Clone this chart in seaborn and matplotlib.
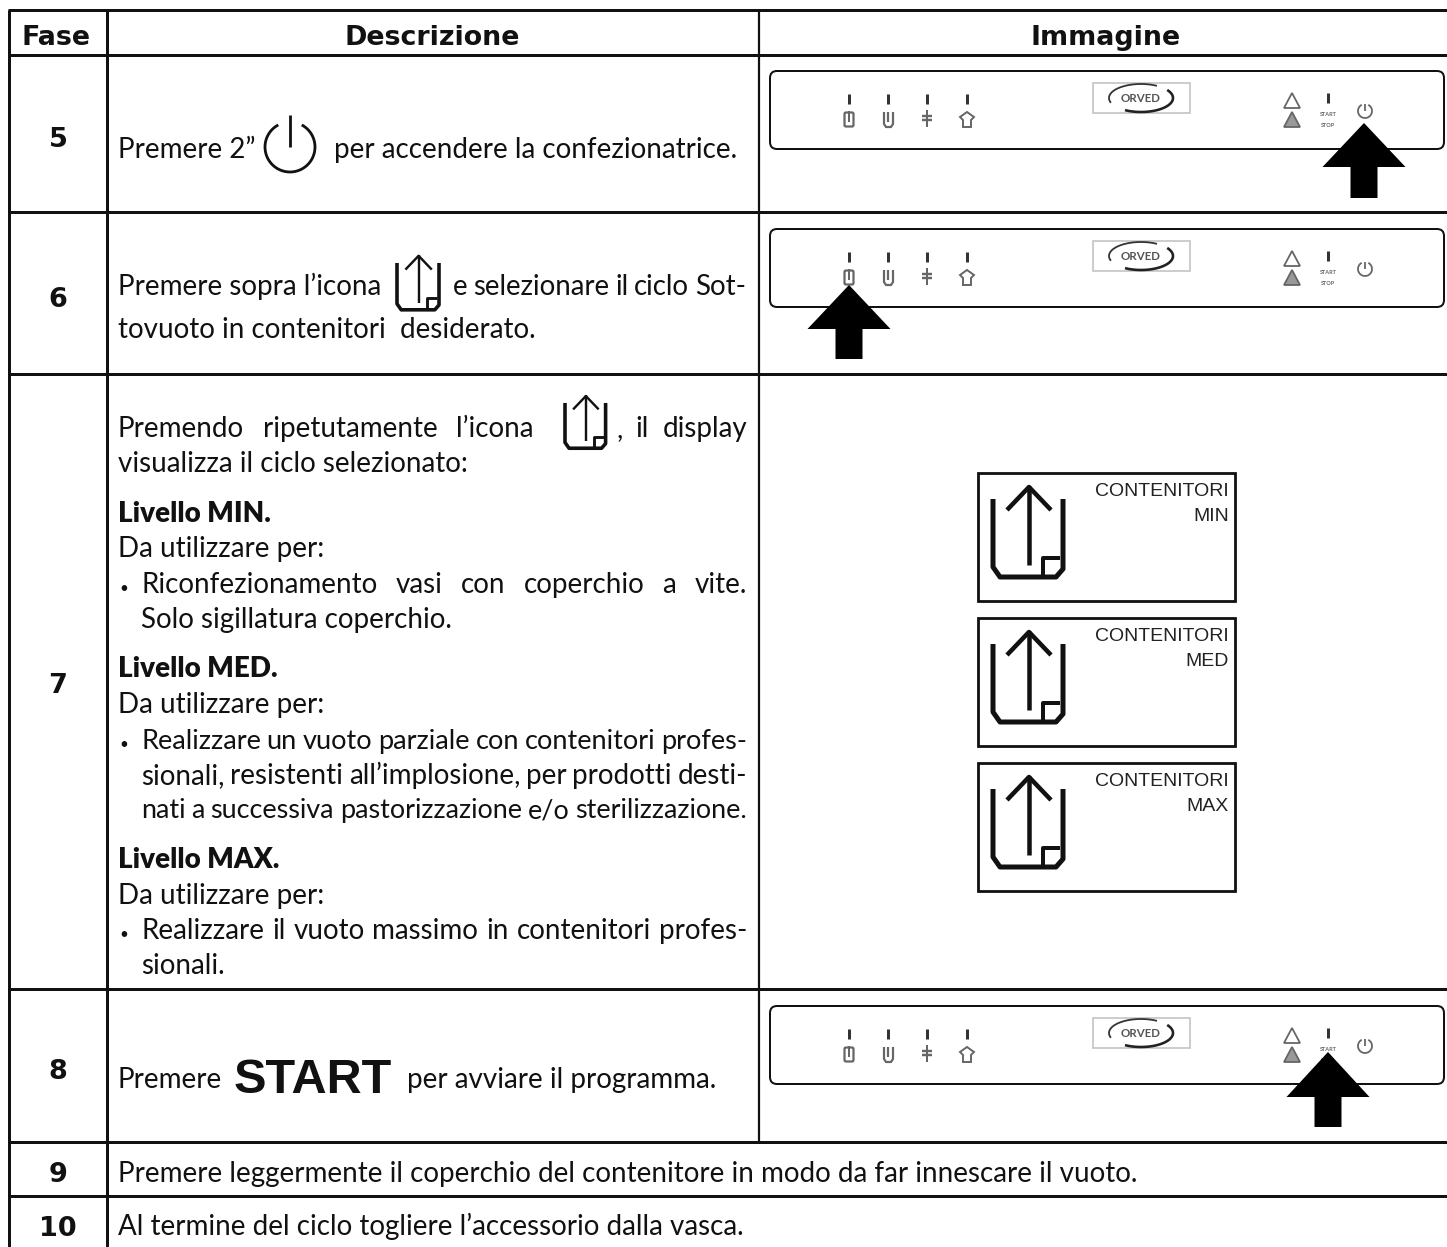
import numpy as np
import seaborn as sns
import matplotlib
matplotlib.use('Agg')
import matplotlib.pyplot as plt
from matplotlib.patches import Rectangle, FancyBboxPatch, Polygon

# Table content
headers = ['Fase', 'Descrizione', 'Immagine']
phases = ['5', '6', '7', '8', '9', '10']
row5_text = ['Premere 2”', 'per accendere la confezionatrice.']
row6_text = ['Premere sopra l’icona', 'e selezionare il ciclo Sot-', 'tovuoto in contenitori  desiderato.']
row7_intro = ['Premendo ripetutamente l’icona', ', il display', 'visualizza il ciclo selezionato:']
levels = ['Livello MIN.', 'Livello MED.', 'Livello MAX.']
level_use = 'Da utilizzare per:'
min_lines = ['Riconfezionamento vasi con coperchio a vite.', 'Solo sigillatura coperchio.']
med_lines = ['Realizzare un vuoto parziale con contenitori profes-',
             'sionali, resistenti all’implosione, per prodotti desti-',
             'nati a successiva pastorizzazione e/o sterilizzazione.']
max_lines = ['Realizzare il vuoto massimo in contenitori profes-', 'sionali.']
row8_text = ['Premere', 'START', 'per avviare il programma.']
row9_text = 'Premere leggermente il coperchio del contenitore in modo da far innescare il vuoto.'
row10_text = 'Al termine del ciclo togliere l’accessorio dalla vasca.'
lcd_title = 'CONTENITORI'
lcd_levels = ['MIN', 'MED', 'MAX']
panel_labels = ['ORVED', 'START', 'STOP']

W, H = 1447, 1247
PX = 0.72
BODY = 20

sns.set_style('white')
plt.rcParams['font.family'] = ['Lato', 'DejaVu Sans']

fig = plt.figure(figsize=(W / 100, H / 100), dpi=100)
ax = fig.add_axes([0, 0, 1, 1])
ax.set_xlim(0, W)
ax.set_ylim(H, 0)
ax.axis('off')
renderer = fig.canvas.get_renderer()


def line(xs, ys, lw=3, color='#111111', **kw):
    ax.plot(xs, ys, color=color, lw=lw * PX, solid_capstyle=kw.pop('cap', 'butt'), **kw)


def put(x, y, s, size=BODY, weight='normal', ha='left', **kw):
    return ax.text(x, y, s, fontsize=size, fontweight=weight, ha=ha, va='baseline', color=kw.pop('color', '#111111'), **kw)


def justified(x0, x1, y, s, min_gap=5.5):
    # spread the words so the line fills the column, shrink a little when the line is too long
    words = s.split(' ')
    items = [put(x0, y, w) for w in words]
    widths = [t.get_window_extent(renderer).width for t in items]
    spaces = max(len(words) - 1, 1)
    if x1 - x0 - sum(widths) < min_gap * spaces:
        size = BODY * (x1 - x0 - min_gap * spaces) / sum(widths)
        for t in items:
            t.set_fontsize(size)
        widths = [t.get_window_extent(renderer).width for t in items]
    gap = (x1 - x0 - sum(widths)) / spaces
    x = x0
    for t, w in zip(items, widths):
        t.set_x(x)
        x += w + gap


def container_icon(x, y, s=1.0, lw=5, shaft=4.5):
    # U shaped tub with the up arrow, x/y = top left of the tub
    color = '#111111'
    line([x, x, x + 7 * s, x + 63 * s, x + 70 * s, x + 70 * s],
         [y, y + 68 * s, y + 78 * s, y + 78 * s, y + 70 * s, y], lw=lw, color=color)
    line([x + 36 * s, x + 36 * s], [y + 66 * s, y - 13 * s], lw=shaft, color=color)
    line([x + 14 * s, x + 36 * s, x + 58 * s], [y + 11 * s, y - 12 * s, y + 11 * s], lw=shaft, color=color)
    line([x + 50 * s, x + 50 * s, x + 67 * s], [y + 78 * s, y + 59 * s, y + 59 * s], lw=lw * 0.8, color=color)


def power_icon(cx, cy, r, lw, tick, color='#111111'):
    t = np.radians(np.linspace(118, 422, 60))
    line(cx + r * np.cos(t), cy - r * np.sin(t), lw=lw, color=color)
    line([cx, cx], [cy - tick, cy], lw=lw, color=color)


def arrow_up(cx, tip, base, bottom):
    ax.add_patch(Polygon([(cx, tip), (cx + 41.5, base), (cx + 13.5, base), (cx + 13.5, bottom),
                          (cx - 13.5, bottom), (cx - 13.5, base), (cx - 41.5, base)],
                         closed=True, fc='black', ec='none', zorder=5))


def panel(top):
    gray = '#666666'
    ax.add_patch(FancyBboxPatch((770 + 7, top + 7), 674 - 14, 78 - 14, boxstyle='round,pad=7',
                                fc='white', ec='#111111', lw=2 * PX))
    for x in [849, 888, 927, 967]:
        line([x, x], [top + 23, top + 33], lw=3, color='#333333')
    # the four cycle icons
    y0 = top + 41
    ax.add_patch(FancyBboxPatch((846, y0 + 2), 6, 11, boxstyle='round,pad=1.5', fc='white', ec=gray, lw=1.6))
    line([849, 849], [y0 - 1, y0 + 10], lw=2, color=gray)
    line([884, 884, 886, 891, 893, 893], [y0, y0 + 12, y0 + 15, y0 + 15, y0 + 12, y0], lw=2.2, color=gray)
    line([888, 888], [y0, y0 + 10], lw=2.2, color=gray)
    line([927, 927], [y0 - 2, y0 + 15], lw=2, color=gray)
    line([922, 932], [y0 + 4, y0 + 4], lw=2.4, color=gray)
    line([922, 932], [y0 + 8, y0 + 8], lw=2.4, color=gray)
    ax.add_patch(Polygon([(967, y0), (974, y0 + 5), (971, y0 + 8), (971, y0 + 15), (963, y0 + 15),
                          (963, y0 + 8), (960, y0 + 5)], closed=True, fc='white', ec=gray, lw=1.4))
    # logo
    ax.add_patch(Rectangle((1093, top + 12), 97, 30, fc='white', ec='#c4c4c4', lw=1.2))
    t = np.radians(np.linspace(60, 200, 40))
    line(1141 + 32 * np.cos(t), top + 27 - 14 * np.sin(t), lw=1.8, color='#333333')
    t = np.radians(np.linspace(-120, 35, 40))
    line(1141 + 32 * np.cos(t), top + 27 - 14 * np.sin(t), lw=2.6, color='#222222')
    put(1141, top + 31, panel_labels[0], size=8.3, weight='bold', ha='center', color='#555555')
    # warning triangles
    for dy, fc in [(22, 'white'), (41, '#999999')]:
        ax.add_patch(Polygon([(1292, top + dy), (1300, top + dy + 15), (1284, top + dy + 15)],
                             closed=True, fc=fc, ec='#666666', lw=1.3))
    line([1328, 1328], [top + 22, top + 32], lw=3, color='#333333')
    put(1328, top + 45, panel_labels[1], size=4, weight='bold', ha='center', color='#666666')
    put(1328, top + 56, panel_labels[2], size=4, weight='bold', ha='center', color='#666666')
    power_icon(1365, top + 40, 7, 1.8, 7, color='#666666')


# grid lines
for y in [10, 55, 212, 374, 989, 1142, 1196]:
    line([8, W], [y, y], lw=3)
line([9, 9], [10, H], lw=3)
line([107, 107], [10, H], lw=3)
line([758.5, 758.5], [10, 1142], lw=2.2)

# headers
for s, x in zip(headers, [56, 432, 1106]):
    ax.text(x, 45, s, fontsize=19.4, family='DejaVu Sans', fontweight='bold', ha='center', va='baseline', color='#111111')

# phase numbers
for s, y in zip(phases, [147, 307, 693, 1079, 1182, 1236]):
    ax.text(58, y, s, fontsize=19.5, family='DejaVu Sans', fontweight='bold', ha='center', va='baseline', color='#111111')

# row 5
put(118, 158, row5_text[0])
power_icon(290, 147, 25, 2.8, 32)
put(334, 158, row5_text[1])

# row 6
put(118, 295, row6_text[0])
container_icon(397, 263, 0.6, 3.6, 2.4)
justified(453, 746, 295, row6_text[1])
put(118, 338, row6_text[2])

# row 7
justified(118, 534, 437, row7_intro[0])
container_icon(565, 403, 0.58, 3.6, 2.4)
justified(616, 747, 437, row7_intro[1])
put(118, 472, row7_intro[2])

put(118, 522, levels[0], weight='heavy')
put(118, 557, level_use)
put(119, 593, '•', size=11)
justified(141, 747, 593, min_lines[0])
put(141, 628, min_lines[1])

put(118, 677, levels[1], weight='heavy')
put(118, 713, level_use)
put(119, 749, '•', size=11)
for s, y in zip(med_lines, [749, 784, 818]):
    justified(141, 747, y, s)

put(118, 868, levels[2], weight='heavy')
put(118, 904, level_use)
put(119, 939, '•', size=11)
justified(141, 747, 939, max_lines[0])
put(141, 974, max_lines[1])

# row 8
put(118, 1088, row8_text[0])
ax.text(234, 1093, row8_text[1], fontsize=35, family='Liberation Sans', fontweight='bold', ha='left', va='baseline', color='#111111')
put(407, 1088, row8_text[2])

# rows 9 and 10
put(118, 1182, row9_text)
put(118, 1235, row10_text)

# machine panels
panel(71)
panel(229)
panel(1006)
arrow_up(1364, 123, 167, 198)
arrow_up(849, 285, 329, 359)
arrow_up(1328, 1052, 1097, 1127)

# display boxes
for top, level in zip([473, 618, 763], lcd_levels):
    ax.add_patch(Rectangle((978, top), 257, 128, fc='white', ec='#111111', lw=2.8 * PX))
    container_icon(993, top + 26, 1.0)
    ax.text(1229, top + 23, lcd_title, fontsize=14, family='Liberation Sans', ha='right', va='baseline', color='#222222')
    ax.text(1229, top + 48, level, fontsize=14, family='Liberation Sans', ha='right', va='baseline', color='#222222')

fig.savefig('out.png', dpi=100)
